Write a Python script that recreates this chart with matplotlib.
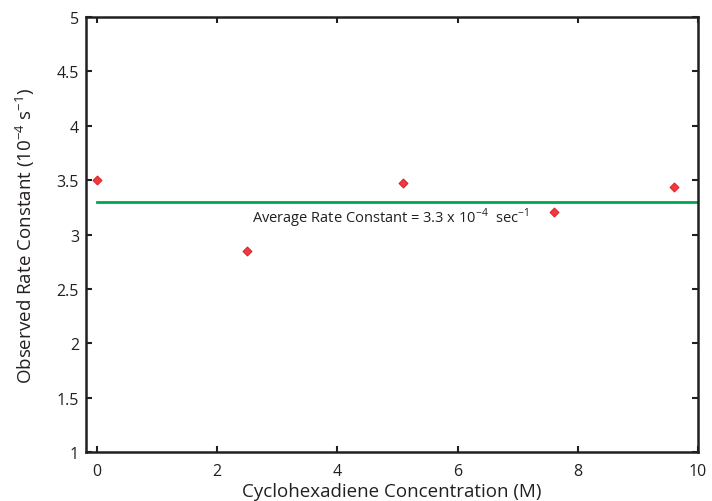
import matplotlib
import numpy as np

matplotlib.use("Agg")
import matplotlib.pyplot as plt

conc = [0.0, 2.5, 5.1, 7.6, 9.6]
rate = [3.50, 2.85, 3.47, 3.21, 3.44]
avg_rate = 3.3
avg_x = [0, 10]
xticks = [0, 2, 4, 6, 8, 10]
yticks = [1, 1.5, 2, 2.5, 3, 3.5, 4, 4.5, 5]
ytick_labels = ["1", "1.5", "2", "2.5", "3", "3.5", "4", "4.5", "5"]

plt.rcParams["font.family"] = ["Open Sans", "DejaVu Sans"]
plt.rcParams["mathtext.fontset"] = "custom"
plt.rcParams["mathtext.rm"] = "Open Sans"

fig = plt.figure(figsize=(7.12, 5.02), dpi=100)
ax = fig.add_axes([86 / 712, 1 - 453 / 502, 612 / 712, 435 / 502])

ax.plot(avg_x, [avg_rate, avg_rate], color="#00a651", lw=2.0, zorder=2)
ax.scatter(conc, rate, marker="D", s=20, color="#ef3a3f", edgecolor="#e0222a",
           linewidth=0.8, zorder=3)

ax.text(4.88, 3.265, r"Average Rate Constant = 3.3 x 10$^{-4}$  sec$^{-1}$",
        ha="center", va="top", fontsize=10.5, color="#231f20")

ax.set_xlim(-0.18, 10)
ax.set_ylim(1, 5)
ax.set_xticks(xticks)
ax.set_yticks(yticks)
ax.set_yticklabels(ytick_labels)
ax.tick_params(direction="in", top=True, right=True, length=4, width=1.5,
               labelsize=11.5, colors="#231f20")
ax.tick_params(axis="x", pad=8)
ax.tick_params(axis="y", pad=5)
for s in ax.spines.values():
    s.set_linewidth(1.8)
    s.set_color("#231f20")

ax.set_xlabel("Cyclohexadiene Concentration (M)", fontsize=13.5, color="#231f20",
              labelpad=2)
ax.set_ylabel(r"Observed Rate Constant (10$^{-4}$ s$^{-1}$)", fontsize=13.5,
              color="#231f20", labelpad=14)

fig.savefig("out.png", dpi=100)
plt.close(fig)
